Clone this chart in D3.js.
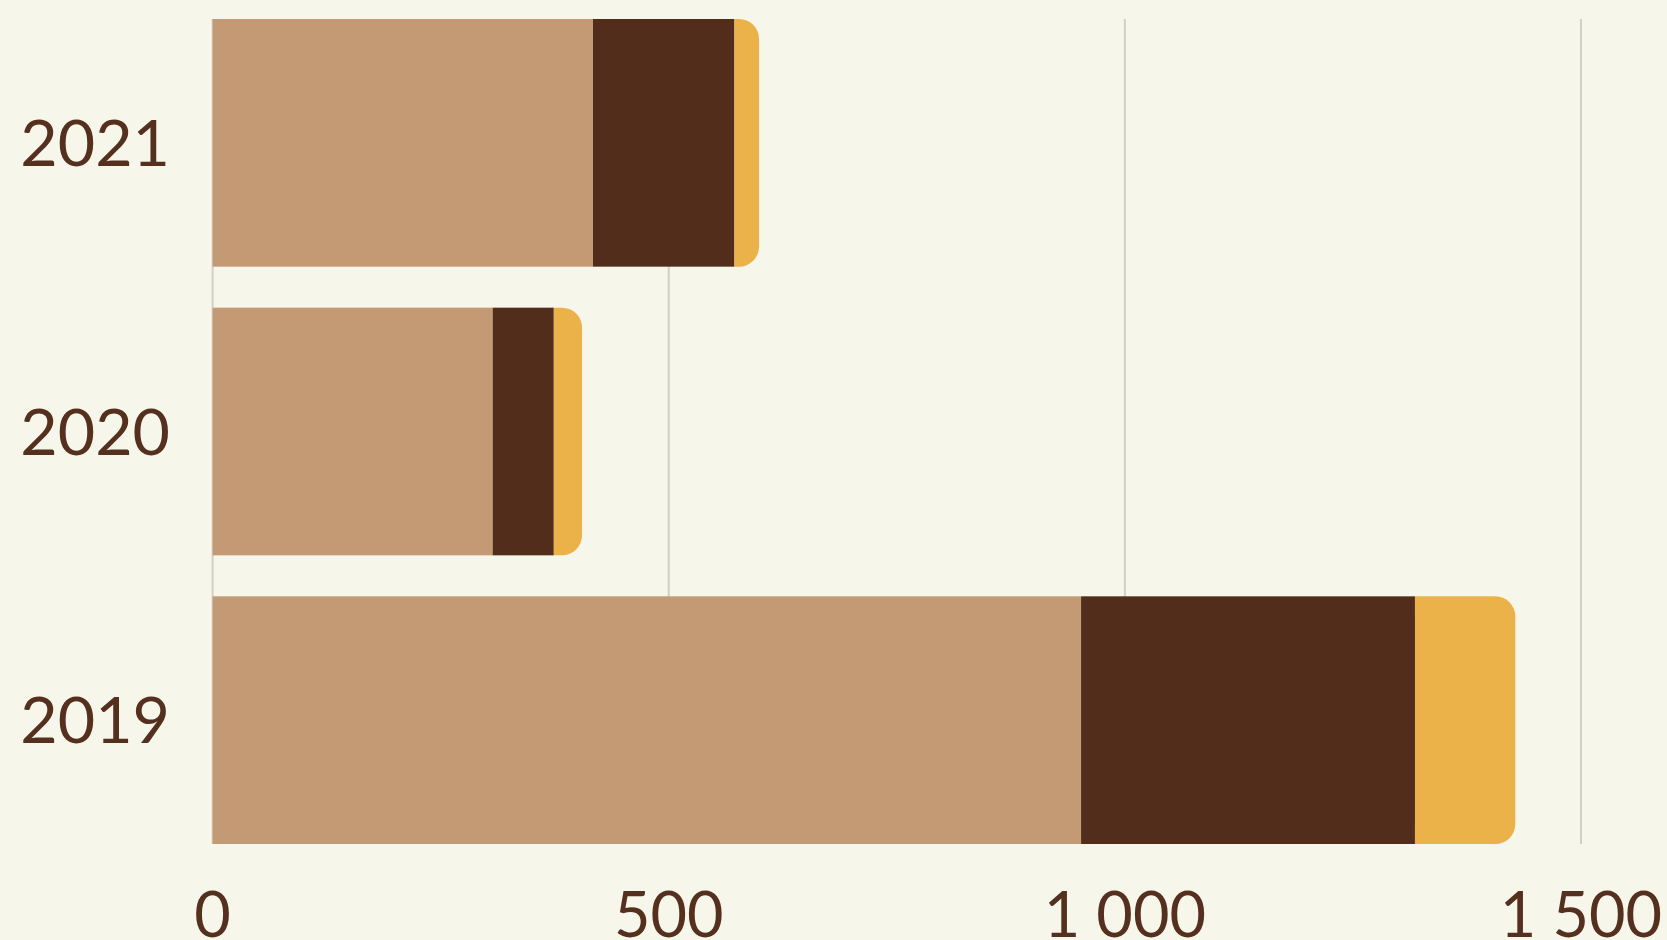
<!DOCTYPE html>
<html>
<head>
<meta charset="utf-8">
<script src="https://cdn.jsdelivr.net/npm/d3@7"></script>
<style>
  html, body { margin: 0; padding: 0; background: #f6f6eb; }
  svg { display: block; }
  text { font-family: Lato, "Open Sans", sans-serif; fill: #55301f; }
</style>
</head>
<body>
<svg id="chart" width="1667" height="940"></svg>
<script>
var years = ["2021", "2020", "2019"];
var seriesA = [417, 307, 952];
var seriesB = [155, 67, 366];
var seriesC = [27, 31, 110];
var xTicks = [0, 500, 1000, 1500];
var colors = ["#c49a74", "#522d1c", "#ebb24a"];

var width = 1667, height = 940;
var margin = {top: 19, right: 86, bottom: 96, left: 212.6};

var svg = d3.select("#chart");

var x = d3.scaleLinear()
  .domain([0, 1500])
  .range([margin.left, width - margin.right]);

var y = d3.scaleBand()
  .domain(years)
  .range([margin.top, height - margin.bottom])
  .paddingInner(0.142);

var rows = years.map(function(yr, i) {
  return {year: yr, a: seriesA[i], b: seriesB[i], c: seriesC[i]};
});
var stack = d3.stack().keys(["a", "b", "c"])(rows);

// grid lines
svg.append("g")
  .selectAll("line")
  .data(xTicks)
  .join("line")
  .attr("x1", function(d) { return x(d); })
  .attr("x2", function(d) { return x(d); })
  .attr("y1", margin.top)
  .attr("y2", height - margin.bottom)
  .attr("stroke", "#d3cfc2")
  .attr("stroke-width", 2);

var r = 20;
function roundedRight(x0, x1, y0, h) {
  var rr = Math.min(r, (x1 - x0), h / 2);
  return "M" + x0 + "," + y0 +
    "H" + (x1 - rr) +
    "A" + rr + "," + rr + " 0 0 1 " + x1 + "," + (y0 + rr) +
    "V" + (y0 + h - rr) +
    "A" + rr + "," + rr + " 0 0 1 " + (x1 - rr) + "," + (y0 + h) +
    "H" + x0 + "Z";
}

stack.forEach(function(layer, li) {
  var g = svg.append("g").attr("fill", colors[li]);
  if (li < stack.length - 1) {
    g.selectAll("rect")
      .data(layer)
      .join("rect")
      .attr("x", function(d) { return x(d[0]); })
      .attr("width", function(d) { return x(d[1]) - x(d[0]); })
      .attr("y", function(d) { return y(d.data.year); })
      .attr("height", y.bandwidth());
  } else {
    // last segment gets the rounded end
    g.selectAll("path")
      .data(layer)
      .join("path")
      .attr("d", function(d) {
        return roundedRight(x(d[0]), x(d[1]), y(d.data.year), y.bandwidth());
      });
  }
});

// y labels
svg.append("g")
  .selectAll("text")
  .data(years)
  .join("text")
  .attr("x", 170)
  .attr("y", function(d) { return y(d) + y.bandwidth() / 2; })
  .attr("dy", "0.36em")
  .attr("text-anchor", "end")
  .attr("font-size", 64.5)
  .text(function(d) { return d; });

// x tick labels
var fmt = d3.formatLocale({decimal: ",", thousands: " ", grouping: [3], currency: ["", ""]}).format(",");
svg.append("g")
  .selectAll("text")
  .data(xTicks)
  .join("text")
  .attr("x", function(d) { return x(d); })
  .attr("y", 937)
  .attr("text-anchor", "middle")
  .attr("font-size", 63)
  .text(function(d) { return fmt(d); });
</script>
</body>
</html>
